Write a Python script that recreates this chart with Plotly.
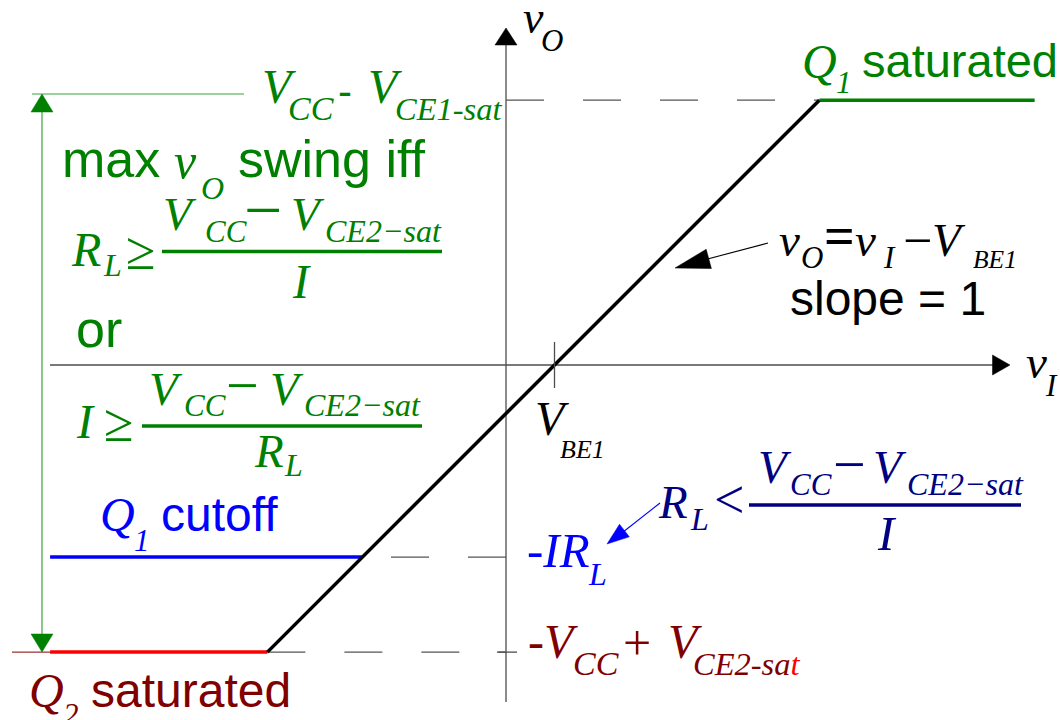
import math
import plotly.graph_objects as go

# ---- transfer characteristic v_O(v_I) of the emitter follower (schematic units, V_BE1 = 1) ----
V_BE1 = 1.0
VO_MAX = 5.46      # V_CC - V_CE1-sat   (Q1 saturated)
VO_CUT = -3.96     # -I*R_L             (Q1 cutoff)
VO_MIN = -5.92     # -V_CC + V_CE2-sat  (Q2 saturated)

VI_Q2_SAT = [-9.4, -4.92]
VO_Q2_SAT = [-5.92, -5.92]
VI_ACTIVE = [-4.92, 6.46]
VO_ACTIVE = [-5.92, 5.46]
VI_Q1_SAT = [6.46, 10.9]
VO_Q1_SAT = [5.46, 5.46]
VI_Q1_CUT = [-9.4, -2.96]
VO_Q1_CUT = [-3.96, -3.96]

# ---- drawing scale: pixels per unit and the pixel position of the origin ----
W, H = 1060, 720
S = 48.5
OX, OY = 506, 365


def dx(px):
    return (px - OX) / S


def dy(py):
    return (OY - py) / S


BLACK = "#000000"
GREEN = "#008000"
GREEN_THIN = "#3f9f3f"
BLUE = "#0000ff"
NAVY = "#000080"
DARKRED = "#800000"
RED = "#ff0000"
AXIS = "#4d4d4d"
SERIF = "Liberation Serif"
SANS = "Liberation Sans"

fig = go.Figure()

# dashed guide lines to the v_O axis
fig.add_trace(go.Scatter(x=[0, VI_ACTIVE[1]], y=[VO_MAX, VO_MAX], mode="lines",
                         line=dict(color="#555555", width=1.2, dash="38px,39px")))
fig.add_trace(go.Scatter(x=[0, VI_Q1_CUT[1]], y=[VO_CUT, VO_CUT], mode="lines",
                         line=dict(color="#555555", width=1.2, dash="38px,39px")))
fig.add_trace(go.Scatter(x=[VI_ACTIVE[0], 0], y=[VO_MIN, VO_MIN], mode="lines",
                         line=dict(color="#555555", width=1.2, dash="38px,39px")))
# thin extension line for the swing dimension at the bottom
fig.add_trace(go.Scatter(x=[dx(12), VI_ACTIVE[0]], y=[VO_MIN, VO_MIN], mode="lines",
                         line=dict(color=DARKRED, width=1)))

# characteristic segments
fig.add_trace(go.Scatter(x=VI_Q1_CUT, y=VO_Q1_CUT, mode="lines", line=dict(color=BLUE, width=3.5)))
fig.add_trace(go.Scatter(x=VI_Q2_SAT, y=VO_Q2_SAT, mode="lines", line=dict(color=RED, width=3.5)))
fig.add_trace(go.Scatter(x=VI_Q1_SAT, y=VO_Q1_SAT, mode="lines", line=dict(color=GREEN, width=3.5)))
fig.add_trace(go.Scatter(x=VI_ACTIVE, y=VO_ACTIVE, mode="lines", line=dict(color=BLACK, width=3.5)))

shapes = []


def seg(x0, y0, x1, y1, color, width):
    shapes.append(dict(type="line", xref="x", yref="y", x0=dx(x0), y0=dy(y0), x1=dx(x1), y1=dy(y1),
                       line=dict(color=color, width=width), layer="below"))


def head(tip, tail, length, half, color):
    ux, uy = tail[0] - tip[0], tail[1] - tip[1]
    n = math.hypot(ux, uy)
    ux, uy = ux / n, uy / n
    bx, by = tip[0] + ux * length, tip[1] + uy * length
    px, py = -uy * half, ux * half
    pts = [tip, (bx + px, by + py), (bx - px, by - py)]
    path = "M " + " L ".join(f"{dx(a):.4f},{dy(b):.4f}" for a, b in pts) + " Z"
    shapes.append(dict(type="path", xref="x", yref="y", path=path, fillcolor=color,
                       line=dict(color=color, width=0.5), layer="above"))


# axes with arrowheads
seg(50, OY, 993, OY, AXIS, 1.3)
seg(OX, 45, OX, 702, AXIS, 1.3)
head((1010, OY), (900, OY), 17.5, 10, BLACK)
head((OX, 28), (OX, 200), 17, 11, BLACK)
# V_BE1 tick and the tick at the lower saturation level
shapes.append(dict(type="line", xref="x", yref="y", x0=V_BE1, x1=V_BE1, y0=dy(342), y1=dy(388),
                   line=dict(color=AXIS, width=1.3)))
shapes.append(dict(type="line", xref="x", yref="y", x0=dx(497), x1=dx(517), y0=VO_MIN, y1=VO_MIN,
                   line=dict(color=AXIS, width=1.3)))

# swing dimension arrow
seg(32, 94, 244, 94, GREEN_THIN, 1.2)
seg(42, 100, 42, 645, GREEN_THIN, 1.2)
head((42, 94), (42, 300), 18, 11, GREEN)
head((42, 652), (42, 400), 18, 11, GREEN)

# pointer arrows
seg(700, 261, 768, 243, BLACK, 1.1)
head((675, 268), (768, 243), 35, 10, BLACK)
seg(618, 536, 660, 503, BLUE, 1.1)
head((607, 544), (660, 503), 22, 8, BLUE)

# fraction bars
seg(162, 251.5, 442, 251.5, GREEN, 3.5)
seg(142, 426, 422, 426, GREEN, 3.5)
seg(749, 505, 1021, 505, NAVY, 3.5)

annotations = []


def txt(s, left, base, size, color, family=SERIF, italic=True):
    k = 0.3375 if family == SERIF else 0.3465
    annotations.append(dict(text=s, x=dx(left - 2), y=dy(base - k * size), xref="x", yref="y",
                            xanchor="left", yanchor="middle", showarrow=False,
                            font=dict(family=family, size=size, color=color,
                                      style="italic" if italic else "normal")))


def sym(s, cx, cy, size, color, family=SERIF):
    annotations.append(dict(text=s, x=dx(cx), y=dy(cy - 0.077 * size), xref="x", yref="y",
                            xanchor="center", yanchor="middle", showarrow=False,
                            font=dict(family=family, size=size, color=color)))


# axis labels
txt("v", 523, 33, 46, BLACK)
txt("O", 541, 51, 31, BLACK)
txt("v", 1026, 378, 47, BLACK)
txt("I", 1045, 396, 31, BLACK)

# upper saturation level
txt("V", 262, 103, 48, GREEN)
txt("CC", 288, 119.5, 34, GREEN)
sym("-", 344.5, 95, 42, GREEN, SANS)
txt("V", 368, 103, 48, GREEN)
txt("CE1-sat", 395, 119.5, 32.5, GREEN)

txt("Q", 802, 78, 48, GREEN)
txt("1", 836, 93, 31, GREEN)
txt("saturated", 862, 77, 47, GREEN, SANS, False)

# swing condition
txt("max", 62, 177.5, 52, GREEN, SANS, False)
txt("v", 174, 177.5, 50, GREEN)
txt("O", 201, 199, 32, GREEN)
txt("swing iff", 238, 177.5, 52, GREEN, SANS, False)

txt("R", 71, 266, 48, GREEN)
txt("L", 103, 276, 32, GREEN)
sym("≥", 141, 255.5, 54, GREEN)
txt("V", 163, 230, 47, GREEN)
txt("CC", 204.5, 242, 31, GREEN)
sym("−", 263, 215, 68, GREEN)
txt("V", 291, 230, 47, GREEN)
txt("CE2−sat", 324.5, 242, 32, GREEN)
txt("I", 292, 298, 48, GREEN)

txt("or", 76, 347, 52, GREEN, SANS, False)

txt("I", 76, 438, 48, GREEN)
sym("≥", 118.5, 427.5, 54, GREEN)
txt("V", 149, 404.5, 47, GREEN)
txt("CC", 184, 416, 31, GREEN)
sym("−", 242.5, 390, 58, GREEN)
txt("V", 270, 404.5, 47, GREEN)
txt("CE2−sat", 304, 416, 32, GREEN)
txt("R", 254, 467, 47, GREEN)
txt("L", 284, 476, 32, GREEN)

# cutoff and lower saturation
txt("Q", 100, 531, 48, BLUE)
txt("1", 133.5, 551, 31, BLUE)
txt("cutoff", 160.5, 531, 48, BLUE, SANS, False)

txt("Q", 29, 707, 48, DARKRED)
txt("2", 62.5, 725, 31, DARKRED)
txt("saturated", 91, 707, 48, DARKRED, SANS, False)

txt("-IR", 527, 567, 49, BLUE)
txt("L", 587.5, 585, 32, BLUE)

txt("R", 658, 518, 47, NAVY)
txt("L", 690, 530, 32, NAVY)
sym("<", 728.5, 504, 54, NAVY)
txt("V", 758, 483, 47, NAVY)
txt("CC", 790, 495, 31, NAVY)
sym("−", 849, 469, 58, NAVY)
txt("V", 873, 483, 47, NAVY)
txt("CE2−sat", 907, 495, 32, NAVY)
txt("I", 877, 550, 49, NAVY)

txt("-V", 528, 658, 48, DARKRED)
txt("CC", 573, 675, 34, DARKRED)
sym("+", 636.5, 646.5, 50, DARKRED)
txt("V", 668, 658, 48, DARKRED)
txt("CE2-sa<span style='color:#ff0000'>t</span>", 693, 675, 32.5, DARKRED)

# active region
txt("v", 778.5, 256, 47, BLACK)
txt("O", 800.5, 268, 31, BLACK)
sym("<b>=</b>", 839.5, 240, 54, BLACK)
txt("v", 854.5, 256, 47, BLACK)
txt("I", 883, 268, 31, BLACK)
sym("−", 917, 244, 52, BLACK)
txt("V", 932, 256, 47, BLACK)
txt("BE1", 973, 268, 25.5, BLACK)
txt("slope = 1", 790, 315, 48, BLACK, SANS, False)

txt("V", 535, 435, 48, BLACK)
txt("BE1", 560, 458, 26, BLACK)

fig.update_layout(
    width=W, height=H,
    margin=dict(l=0, r=0, t=0, b=0),
    paper_bgcolor="white", plot_bgcolor="white",
    showlegend=False,
    xaxis=dict(range=[dx(0), dx(W)], visible=False, fixedrange=True),
    yaxis=dict(range=[dy(H), dy(0)], visible=False, fixedrange=True),
    shapes=shapes,
    annotations=annotations,
)

fig.write_html("out.html")
